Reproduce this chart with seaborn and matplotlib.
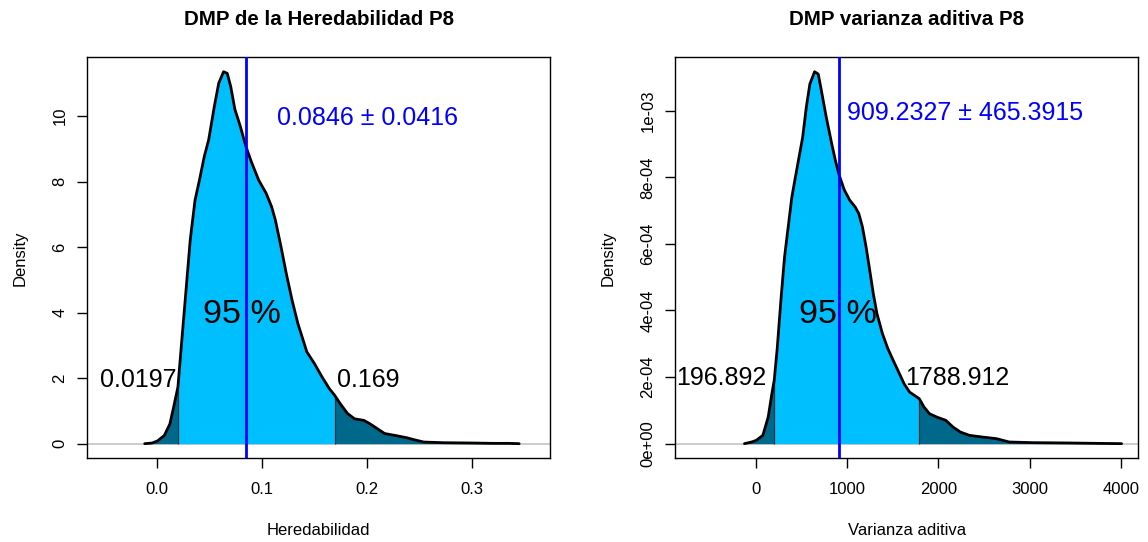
import numpy as np
import matplotlib
matplotlib.use("Agg")
import matplotlib.pyplot as plt
import seaborn as sns
from matplotlib.ticker import FuncFormatter

# ---------------- data ----------------
h2_x = [-0.012, -0.005, 0.0, 0.0067, 0.012, 0.0155, 0.0197, 0.0226, 0.0261, 0.0314,
        0.036, 0.0402, 0.0448, 0.049, 0.0544, 0.0586, 0.0632, 0.0667, 0.0700, 0.0740,
        0.0790, 0.0846, 0.0897, 0.0967, 0.1038, 0.109, 0.1126, 0.118, 0.123, 0.1285,
        0.134, 0.1426, 0.1497, 0.157, 0.164, 0.169, 0.1744, 0.1814, 0.188, 0.197,
        0.2026, 0.2097, 0.2167, 0.227, 0.238, 0.245, 0.254, 0.273, 0.301, 0.32, 0.335, 0.345]
h2_density = [0.0, 0.02, 0.08, 0.25, 0.6, 1.1, 1.73, 2.85, 4.18, 6.21,
              7.43, 8.04, 8.76, 9.27, 10.29, 11.0, 11.35, 11.3, 10.9, 10.2,
              9.7, 9.06, 8.6, 8.04, 7.64, 7.23, 6.82, 6.0, 5.19, 4.38,
              3.67, 2.8, 2.45, 2.04, 1.68, 1.48, 1.22, 0.92, 0.76, 0.71,
              0.61, 0.46, 0.31, 0.25, 0.18, 0.12, 0.05, 0.03, 0.02, 0.01, 0.01, 0.0]
h2_mean, h2_sd = 0.0846, 0.0416
h2_ci = [0.0197, 0.169]

va_x = [-130, -50, 0, 72, 131, 171, 196.892, 231, 270, 310, 350, 390, 429, 469, 509,
        549, 588, 640, 680, 708, 767, 827, 867, 909, 966, 1026, 1085, 1125, 1165, 1205,
        1245, 1284, 1324, 1384, 1443, 1503, 1563, 1622, 1682, 1788.912, 1841, 1901, 1980,
        2080, 2159, 2239, 2338, 2477, 2636, 2775, 3034, 3431, 3700, 4010]
va_density = [0.0, 0.05e-4, 0.1e-4, 0.25e-4, 0.8e-4, 1.5e-4, 1.9e-4, 2.9e-4, 4.3e-4, 5.6e-4,
              6.5e-4, 7.4e-4, 8.0e-4, 8.6e-4, 9.2e-4, 10.1e-4, 10.8e-4, 11.17e-4, 11.1e-4,
              10.7e-4, 9.82e-4, 9.02e-4, 8.52e-4, 8.07e-4, 7.62e-4, 7.31e-4, 7.11e-4, 6.91e-4,
              6.51e-4, 5.91e-4, 5.21e-4, 4.51e-4, 3.91e-4, 3.31e-4, 2.86e-4, 2.5e-4, 2.15e-4,
              1.8e-4, 1.55e-4, 1.35e-4, 1.1e-4, 0.9e-4, 0.8e-4, 0.7e-4, 0.5e-4, 0.35e-4,
              0.25e-4, 0.2e-4, 0.15e-4, 0.05e-4, 0.03e-4, 0.02e-4, 0.01e-4, 0.0]
va_mean, va_sd = 909.2327, 465.3915
va_ci = [196.892, 1788.912]

titles = ["DMP de la Heredabilidad P8", "DMP varianza aditiva P8"]
xlabels = ["Heredabilidad", "Varianza aditiva"]
h2_xticks = [0.0, 0.1, 0.2, 0.3]
h2_yticks = [0, 2, 4, 6, 8, 10]
va_xticks = [0, 1000, 2000, 3000, 4000]
va_yticks = [0, 2e-4, 4e-4, 6e-4, 8e-4, 1e-3]

# ---------------- style ----------------
sns.set_style("white")
plt.rcParams['font.family'] = ['Liberation Sans', 'DejaVu Sans']
plt.rcParams['text.color'] = 'black'
plt.rcParams['axes.labelcolor'] = 'black'
plt.rcParams['xtick.color'] = 'black'
plt.rcParams['ytick.color'] = 'black'

LIGHT = "#00BFFF"
DARK = "#00688B"

fig = plt.figure(figsize=(11.48, 5.42), dpi=100)
ax1 = fig.add_axes([0.07605, 0.15443, 0.40305, 0.73985])
ax2 = fig.add_axes([0.58824, 0.15443, 0.40305, 0.73985])


def panel(ax, x, d, mean, sd, ci, title, xlabel, xticks, yticks, xlim, ylim,
          mean_txt_pos, pct_pos, lo_pos, hi_pos, yfmt=None):
    x = np.asarray(x, float)
    d = np.asarray(d, float)
    ax.axhline(0, color="#C8C8C8", lw=1.3, zorder=1)
    lo = x <= ci[0]
    mid = (x >= ci[0]) & (x <= ci[1])
    hi = x >= ci[1]
    ax.fill_between(x[lo], 0, d[lo], color=DARK, lw=0, zorder=2)
    ax.fill_between(x[mid], 0, d[mid], color=LIGHT, lw=0, zorder=2)
    ax.fill_between(x[hi], 0, d[hi], color=DARK, lw=0, zorder=2)
    for c in ci:
        ax.vlines(c, 0, d[x == c][0], color="#303030", lw=0.9, zorder=3)
    sns.lineplot(x=x, y=d, ax=ax, color="black", lw=2.0, sort=False,
                 estimator=None, zorder=4)
    ax.axvline(mean, color="#0000FF", lw=2.0, zorder=5)

    ax.text(mean_txt_pos[0], mean_txt_pos[1], f"{mean} \u00b1 {sd}", color="#0000FF",
            fontsize=18, ha="center", va="center", zorder=6)
    ax.text(pct_pos[0], pct_pos[1], "95 %", fontsize=24.5, ha="center", va="center",
            color="black", zorder=6)
    ax.text(lo_pos[0], lo_pos[1], f"{ci[0]}", fontsize=18, ha="right", va="center",
            color="black", zorder=6)
    ax.text(hi_pos[0], hi_pos[1], f"{ci[1]}", fontsize=18, ha="left", va="center",
            color="black", zorder=6)

    ax.set_xlim(*xlim)
    ax.set_ylim(*ylim)
    ax.set_xticks(xticks)
    ax.set_yticks(yticks)
    if yfmt is not None:
        ax.yaxis.set_major_formatter(FuncFormatter(yfmt))
    ax.tick_params(axis="both", direction="out", length=7.2, width=1.0, color="black",
                   labelcolor="black", labelsize=12, bottom=True, left=True,
                   top=False, right=False)
    ax.tick_params(axis="x", pad=10.2)
    ax.tick_params(axis="y", pad=7.0)
    for lab in ax.get_yticklabels():
        lab.set_rotation(90)
        lab.set_va("center")
    for s in ax.spines.values():
        s.set_visible(True)
        s.set_color("black")
        s.set_linewidth(1.0)
    ax.set_title(title, fontsize=14.8, fontweight="bold", pad=23, color="black")
    ax.set_xlabel(xlabel, fontsize=12, color="black")
    ax.set_ylabel("Density", fontsize=12, color="black")
    ax.xaxis.set_label_coords(0.5, -0.161)
    ax.xaxis.label.set_va("top")
    ax.yaxis.set_label_coords(-0.130, 0.5)
    ax.grid(False)


panel(ax1, h2_x, h2_density, h2_mean, h2_sd, h2_ci, titles[0], xlabels[0],
      h2_xticks, h2_yticks, (-0.0667, 0.3744), (-0.446, 11.79),
      (0.2004, 9.94), (0.0811, 3.93), (0.0179, 1.93), (0.1712, 1.93))

panel(ax2, va_x, va_density, va_mean, va_sd, va_ci, titles[1], xlabels[1],
      va_xticks, va_yticks, (-889, 4190), (-4.4e-5, 1.1604e-3),
      (2290, 9.92e-4), (893, 3.89e-4), (111, 1.96e-4), (1637, 1.96e-4),
      yfmt=lambda v, p: f"{v:.0e}")

fig.savefig("out.png", dpi=100)
